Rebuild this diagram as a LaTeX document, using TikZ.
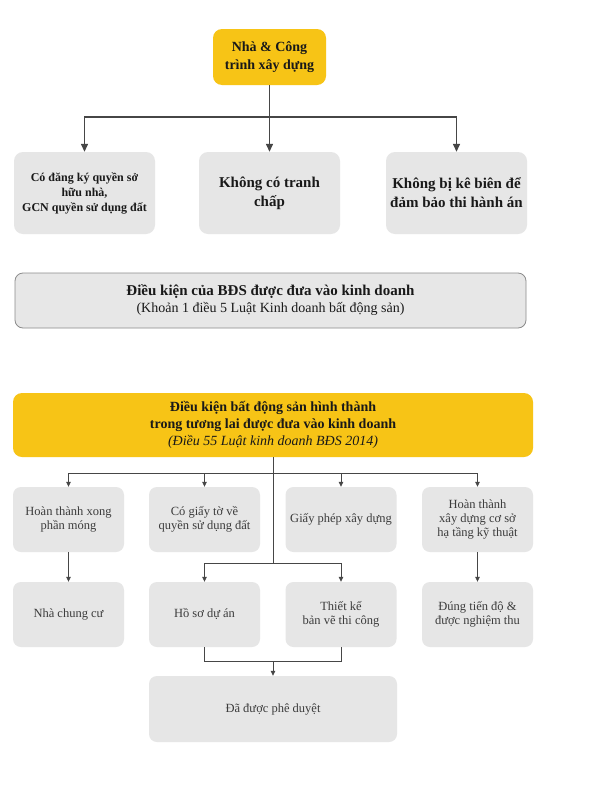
\documentclass[tikz,border=0pt]{standalone}
\usepackage{fontspec}
\setmainfont{Liberation Serif}
\usepackage{tikz}
\usetikzlibrary{arrows.meta,positioning,calc}
\definecolor{ink}{RGB}{25,25,25}
\definecolor{softink}{RGB}{60,60,60}
\definecolor{gold}{RGB}{247,196,22}
\definecolor{panel}{RGB}{230,230,230}
\definecolor{rim}{RGB}{140,140,140}
\definecolor{wire}{RGB}{70,70,70}

\tikzset{
  goldbox/.style={fill=gold,rounded corners=9pt,align=center,text=ink,
    inner sep=0pt,font=\fontsize{14}{18}\selectfont\bfseries},
  greybox/.style={fill=panel,rounded corners=9pt,align=center,text=ink,
    inner sep=0pt,minimum width=141pt,minimum height=82pt},
  smallbox/.style={fill=panel,rounded corners=8pt,align=center,text=softink,
    inner sep=0pt,minimum width=111pt,minimum height=65pt,
    font=\fontsize{12.5}{14}\selectfont},
  link/.style={draw=wire,line width=1.4pt,-{Triangle[length=8pt,width=7pt]}},
  thinlink/.style={draw=wire,line width=0.8pt,-{Triangle[length=5pt,width=4.5pt]}},
  trunk/.style={draw=wire,line width=0.8pt}
}

\begin{document}
\begin{tikzpicture}[x=1pt,y=-1pt]
  \useasboundingbox[fill=white] (0,0) rectangle (600,798);

  % upper tree
  \node[goldbox,minimum width=113pt,minimum height=56pt] (house) at (269.5,57)
    {Nhà \& Công\\trình xây dựng};
  \node[greybox,font=\fontsize{12}{15}\selectfont\bfseries] (registered) at (84.5,193)
    {Có đăng ký quyền sở\\hữu nhà,\\GCN quyền sử dụng đất};
  \node[greybox,font=\fontsize{15}{19}\selectfont\bfseries] (nodispute) at (269.5,193)
    {Không có tranh\\chấp};
  \node[greybox,font=\fontsize{15}{19}\selectfont\bfseries] (noseizure) at (456.5,193)
    {Không bị kê biên để\\đảm bảo thi hành án};
  \coordinate (split1) at (269.5,117);
  \draw[trunk,line width=1.4pt] (house) -- (split1);
  \draw[link] (split1) -| (registered);
  \draw[link] (split1) -- (nodispute);
  \draw[link] (split1) -| (noseizure);

  \node[fill=panel!95!white,draw=rim,line width=0.8pt,rounded corners=8pt,
    minimum width=511pt,minimum height=55pt,align=center,text=ink,inner sep=0pt]
    (rule1) at (270.5,300.5)
    {{\fontsize{15}{19}\selectfont\bfseries Điều kiện của BĐS được đưa vào kinh doanh}\\[3pt]
     {\fontsize{14}{18}\selectfont (Khoản 1 điều 5 Luật Kinh doanh bất động sản)}};

  % lower tree
  \node[goldbox,minimum width=520pt,minimum height=64pt,
    font=\fontsize{14}{17}\selectfont] (future) at (273,425)
    {{\bfseries Điều kiện bất động sản hình thành}\\
     {\bfseries trong tương lai được đưa vào kinh doanh}\\
     {\itshape (Điều 55 Luật kinh doanh BĐS 2014)}};

  \node[smallbox] (foundation) at (68.5,519.5) {Hoàn thành xong\\phần móng};
  \node[smallbox] (landpapers) at (204.5,519.5) {Có giấy tờ về\\quyền sử dụng đất};
  \node[smallbox] (permit) at (341,519.5) {Giấy phép xây dựng};
  \node[smallbox] (infra) at (477.5,519.5) {Hoàn thành\\xây dựng cơ sở\\hạ tầng kỹ thuật};

  \node[smallbox] (apartment) at (68.5,614.5) {Nhà chung cư};
  \node[smallbox] (dossier) at (204.5,614.5) {Hồ sơ dự án};
  \node[smallbox] (drawings) at (341,614.5) {Thiết kế\\bản vẽ thi công};
  \node[smallbox] (ontime) at (477.5,614.5) {Đúng tiến độ \&\\được nghiệm thu};

  \node[smallbox,minimum width=248pt,minimum height=66pt] (approved) at (273,709)
    {Đã được phê duyệt};

  \coordinate (split2) at (273,473);
  \coordinate (split3) at (273,563);
  \coordinate (join) at (273,661);
  \draw[trunk] (future) -- (split3);
  \draw[thinlink] (split2) -| (foundation);
  \draw[thinlink] (split2) -| (landpapers);
  \draw[thinlink] (split2) -| (permit);
  \draw[thinlink] (split2) -| (infra);
  \draw[thinlink] (foundation) -- (apartment);
  \draw[thinlink] (infra) -- (ontime);
  \draw[thinlink] (split3) -| (dossier);
  \draw[thinlink] (split3) -| (drawings);
  \draw[trunk] (dossier) |- (join);
  \draw[trunk] (drawings) |- (join);
  \draw[thinlink] (join) -- (approved);
\end{tikzpicture}
\end{document}
